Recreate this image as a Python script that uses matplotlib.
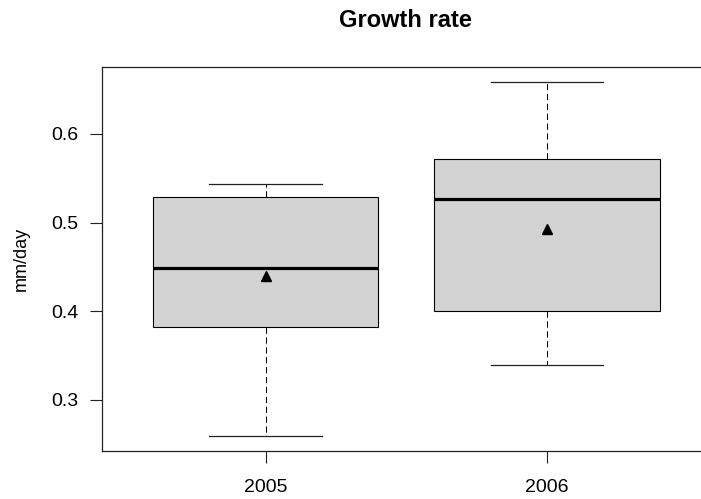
import matplotlib
matplotlib.use("Agg")
import matplotlib.pyplot as plt

plt.rcParams['font.family'] = ['Liberation Sans', 'DejaVu Sans']

years = ["2005", "2006"]
whislo = [0.2594, 0.3392]
q1 = [0.3825, 0.4008]
med = [0.4492, 0.5267]
q3 = [0.5293, 0.5718]
whishi = [0.5433, 0.6586]
means = [0.4404, 0.4929]
yticks = [0.3, 0.4, 0.5, 0.6]

stats = []
for i, y in enumerate(years):
    stats.append(dict(label=y, whislo=whislo[i], q1=q1[i], med=med[i],
                      q3=q3[i], whishi=whishi[i], mean=means[i], fliers=[]))

fig = plt.figure(figsize=(7.01, 4.99), dpi=100)
W, H = 701, 499
left, right, top, bottom = 101.5, 711, 66.7, 450.7
ax = fig.add_axes([left / W, 1 - bottom / H, (right - left) / W, (bottom - top) / H])

ax.bxp(stats, positions=[1, 2], widths=0.8, capwidths=0.4, showmeans=True,
       patch_artist=True, showfliers=False,
       boxprops=dict(facecolor='#D3D3D3', edgecolor='black', linewidth=0.8),
       medianprops=dict(color='black', linewidth=2.3, solid_capstyle='butt'),
       whiskerprops=dict(color='black', linewidth=0.75, linestyle=(0, (6, 3.5))),
       capprops=dict(color='#222222', linewidth=0.9),
       meanprops=dict(marker='^', markerfacecolor='black', markeredgecolor='black',
                      markersize=7.5))

ax.set_xlim(0.4174, 2.5826)
ax.set_ylim(0.2428, 0.6759)
ax.set_yticks(yticks)
ax.set_yticklabels([f"{v:.1f}" for v in yticks])
ax.set_xticks([1, 2])
ax.set_xticklabels(years)
ax.tick_params(axis='both', length=8.6, width=0.8, color='#222222', labelsize=14)
ax.tick_params(axis='y', pad=8)
ax.tick_params(axis='x', pad=12)
for s in ['left', 'bottom', 'top', 'right']:
    ax.spines[s].set_linewidth(0.9)
    ax.spines[s].set_color('#222222')

fig.text(21 / W, 1 - 258.7 / H, "mm/day", rotation=90, ha='center', va='center', fontsize=13)
fig.text(405 / W, 1 - 26.7 / H, "Growth rate", ha='center', va='baseline',
         fontsize=17, fontweight='bold')

fig.savefig("out.png", dpi=100)
